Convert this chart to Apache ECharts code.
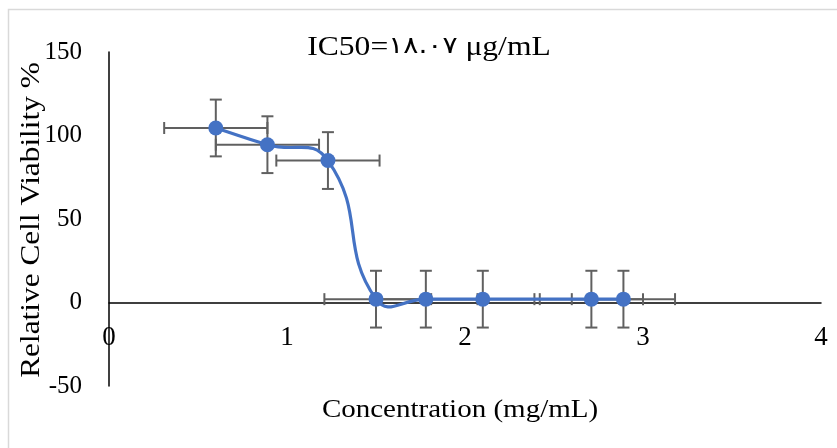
<!DOCTYPE html>
<html>
<head>
<meta charset="utf-8">
<title>IC50</title>
<script src="https://cdn.jsdelivr.net/npm/echarts@6/dist/echarts.min.js"></script>
<style>
  html, body { margin: 0; padding: 0; background: #fff; }
  #main { width: 837px; height: 448px; }
</style>
</head>
<body>
<div id="main"></div>
<script>
// data
var concentration = [0.6, 0.89, 1.23, 1.5, 1.78, 2.1, 2.71, 2.89];
var viability = [104.5, 94.5, 85, 2, 2, 2, 2, 2];
var xErr = [0.29, 0.29, 0.29, 0.29, 0.29, 0.29, 0.29, 0.29];
var yErr = [17, 17, 17, 17, 17, 17, 17, 17];

var serif = "'Liberation Serif', 'Times New Roman', serif";
var blue = '#4472C4';

var points = concentration.map(function (x, i) { return [x, viability[i]]; });
var errData = concentration.map(function (x, i) { return [x, viability[i], xErr[i], yErr[i]]; });

// excel-like smoothed line (bezier, control points from neighbours, no clamping)
var smoothK = 0.5;
function ctrl(p, i) {
    var prev = p[i - 1] || p[i], next = p[i + 1] || p[i];
    var d0 = Math.hypot(p[i][0] - prev[0], p[i][1] - prev[1]);
    var d1 = Math.hypot(next[0] - p[i][0], next[1] - p[i][1]);
    var vx = next[0] - prev[0], vy = next[1] - prev[1];
    var r = d0 + d1 ? d1 / (d0 + d1) : 0.5;
    return {
        inX: p[i][0] - vx * smoothK * (1 - r), inY: p[i][1] - vy * smoothK * (1 - r),
        outX: p[i][0] + vx * smoothK * r, outY: p[i][1] + vy * smoothK * r
    };
}

var myChart = echarts.init(document.getElementById('main'));

var option = {
    backgroundColor: '#fff',
    animation: false,
    grid: { left: 109, right: 16, top: 52, bottom: 62, containLabel: false },
    xAxis: {
        type: 'value',
        min: 0, max: 4, interval: 1,
        offset: -83.5,
        axisLine: { onZero: false, lineStyle: { color: '#000', width: 1.5 } },
        axisTick: { show: false },
        splitLine: { show: false },
        axisLabel: { color: '#000', fontFamily: serif, fontSize: 27, margin: 22 }
    },
    yAxis: {
        type: 'value',
        min: -50, max: 150, interval: 50,
        axisLine: { show: true, onZero: false, lineStyle: { color: '#000', width: 1.5 } },
        axisTick: { show: false },
        splitLine: { show: false },
        axisLabel: { color: '#000', fontFamily: serif, fontSize: 25, margin: 27 }
    },
    graphic: [
        { type: 'rect', shape: { x: 8.5, y: 9.5, width: 900, height: 600 },
          style: { fill: 'none', stroke: '#d9d9d9', lineWidth: 1.5 }, silent: true },
        { type: 'text', x: 429, y: 48, scaleX: 1.17,
          style: { text: '{a|IC50=}{b|١٨.٠٧}{a| μg/mL}', fill: '#000',
                   textAlign: 'center', textVerticalAlign: 'middle',
                   rich: {
                       a: { fontFamily: serif, fontSize: 27, fill: '#000' },
                       b: { fontFamily: "'DejaVu Sans', sans-serif", fontSize: 24, fill: '#000',
                            padding: [0, 0, 3, 0] }
                   } } },
        { type: 'text', x: 460, y: 410, scaleX: 1.16,
          style: { text: 'Concentration (mg/mL)', font: '25px ' + serif, fill: '#000',
                   textAlign: 'center', textVerticalAlign: 'middle' } },
        { type: 'text', x: 32, y: 220, rotation: Math.PI / 2, scaleX: 1.16,
          style: { text: 'Relative Cell Viability %', font: '27px ' + serif, fill: '#000',
                   textAlign: 'center', textVerticalAlign: 'middle' } }
    ],
    series: [{
        type: 'custom',
        z: 1,
        data: errData,
        renderItem: function (params, api) {
            var x = api.value(0), y = api.value(1), dx = api.value(2), dy = api.value(3);
            var left = api.coord([x - dx, y]), right = api.coord([x + dx, y]);
            var top = api.coord([x, y + dy]), bottom = api.coord([x, y - dy]);
            var c = 6;
            var st = { stroke: '#606060', lineWidth: 2 };
            return {
                type: 'group',
                children: [
                    { type: 'line', shape: { x1: left[0], y1: left[1], x2: right[0], y2: right[1] }, style: st },
                    { type: 'line', shape: { x1: left[0], y1: left[1] - c, x2: left[0], y2: left[1] + c }, style: st },
                    { type: 'line', shape: { x1: right[0], y1: right[1] - c, x2: right[0], y2: right[1] + c }, style: st },
                    { type: 'line', shape: { x1: top[0], y1: top[1], x2: bottom[0], y2: bottom[1] }, style: st },
                    { type: 'line', shape: { x1: top[0] - c, y1: top[1], x2: top[0] + c, y2: top[1] }, style: st },
                    { type: 'line', shape: { x1: bottom[0] - c, y1: bottom[1], x2: bottom[0] + c, y2: bottom[1] }, style: st }
                ]
            };
        }
    }, {
        type: 'custom',
        z: 2,
        data: points,
        renderItem: function (params, api) {
            var i = params.dataIndex;
            if (i >= points.length - 1) return null;
            var p = points.map(function (d) { return api.coord(d); });
            var a = ctrl(p, i), b = ctrl(p, i + 1);
            return {
                type: 'bezierCurve',
                shape: {
                    x1: p[i][0], y1: p[i][1], x2: p[i + 1][0], y2: p[i + 1][1],
                    cpx1: a.outX, cpy1: a.outY, cpx2: b.inX, cpy2: b.inY
                },
                style: { stroke: blue, lineWidth: 3.2, fill: null, lineCap: 'round' }
            };
        }
    }, {
        type: 'scatter',
        z: 3,
        data: points,
        symbol: 'circle',
        symbolSize: 15,
        itemStyle: { color: blue, opacity: 1 }
    }]
};

myChart.setOption(option);
</script>
</body>
</html>
